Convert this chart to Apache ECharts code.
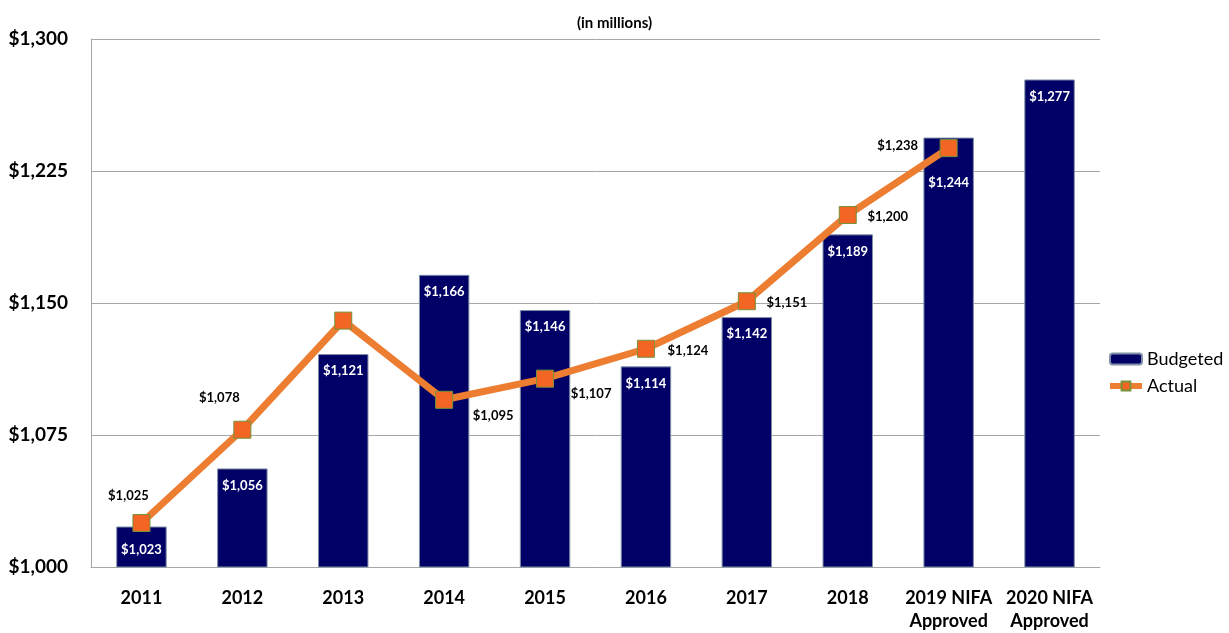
<!DOCTYPE html>
<html>
<head>
<meta charset="utf-8">
<script src="https://cdn.jsdelivr.net/npm/echarts@6/dist/echarts.min.js"></script>
<style>
  html, body { margin: 0; padding: 0; background: #ffffff; }
  #chart { width: 1229px; height: 633px; }
</style>
</head>
<body>
<div id="chart"></div>
<script>
// Fiscal years shown on the category axis
const categories = ['2011', '2012', '2013', '2014', '2015', '2016', '2017', '2018', '2019 NIFA\nApproved', '2020 NIFA\nApproved'];

// Budget amounts, in millions of dollars
const budgeted = [1023, 1056, 1121, 1166, 1146, 1114, 1142, 1189, 1244, 1277];

// Actual spending, in millions of dollars (no figure yet for 2020)
const actual = [1025, 1078, 1140, 1095, 1107, 1124, 1151, 1200, 1238, null];

// Value axis range and step
const yMin = 1000;
const yMax = 1300;
const yStep = 75;

// Where each actual-value label sits relative to its marker (null = no label)
const actualLabelOffsets = [[-13, -27], [-23, -32], null, [49, 16], [46, 15], [42, 2], [40, 2], [40, 2], [-51, -2], null];

// Gap between a bar's top and its value label
const barLabelGaps = [15, 9, 9, 9, 9, 9, 9, 9, 37, 9];

const FONT = 'Lato, "Open Sans", sans-serif';

const money = v => '$' + v.toLocaleString('en-US');

const chart = echarts.init(document.getElementById('chart'), null, { renderer: 'canvas' });

const barData = budgeted.map((v, i) => ({
  value: v,
  label: { distance: barLabelGaps[i] }
}));

const lineData = actual.map((v, i) => {
  const off = actualLabelOffsets[i];
  return {
    value: v,
    label: off ? { show: true, offset: off } : { show: false }
  };
});

chart.setOption({
  backgroundColor: '#ffffff',
  animation: false,
  textStyle: { fontFamily: FONT },
  title: {
    text: '(in millions)',
    left: 'center',
    top: 11,
    textStyle: { fontSize: 15, fontWeight: 'bold', color: '#000000', fontFamily: FONT }
  },
  legend: {
    orient: 'vertical',
    left: 1102,
    top: 345,
    itemWidth: 32,
    itemHeight: 11,
    itemGap: 9,
    textStyle: { fontSize: 18, color: '#000000', fontFamily: FONT },
    data: [
      { name: 'Budgeted' },
      { name: 'Actual', lineStyle: { width: 6, color: '#ed7d31' } }
    ]
  },
  grid: { left: 91, right: 129, top: 39, bottom: 62, containLabel: false },
  xAxis: {
    type: 'category',
    data: categories,
    axisLine: { lineStyle: { color: '#a6a6a6', width: 1 } },
    axisTick: { show: false },
    axisLabel: {
      interval: 0,
      margin: 20,
      fontSize: 18,
      fontWeight: 'bold',
      color: '#000000',
      lineHeight: 23,
      fontFamily: FONT
    }
  },
  yAxis: {
    type: 'value',
    min: yMin,
    max: yMax,
    interval: yStep,
    axisLine: { show: true, lineStyle: { color: '#a6a6a6', width: 1 } },
    axisTick: { show: false },
    splitLine: { lineStyle: { color: '#a6a6a6', width: 1 } },
    axisLabel: {
      margin: 23,
      fontSize: 19,
      fontWeight: 'bold',
      color: '#000000',
      fontFamily: FONT,
      formatter: v => money(v)
    }
  },
  series: [
    {
      name: 'Budgeted',
      type: 'bar',
      data: barData,
      barWidth: '50%',
      itemStyle: { color: '#000066', borderColor: '#7f8fa6', borderWidth: 1 },
      label: {
        show: true,
        position: 'insideTop',
        color: '#ffffff',
        fontSize: 13,
        fontWeight: 'bold',
        lineHeight: 16,
        fontFamily: FONT,
        formatter: p => money(p.value)
      }
    },
    {
      name: 'Actual',
      type: 'line',
      data: lineData,
      connectNulls: false,
      symbol: 'rect',
      symbolSize: 17,
      z: 5,
      lineStyle: { color: '#ed7d31', width: 7 },
      itemStyle: { color: '#f26522', borderColor: '#77933c', borderWidth: 1 },
      label: {
        position: 'inside',
        color: '#000000',
        fontSize: 13,
        fontWeight: 'bold',
        fontFamily: FONT,
        formatter: p => money(p.value)
      },
      emphasis: { disabled: true }
    }
  ]
});
</script>
</body>
</html>
